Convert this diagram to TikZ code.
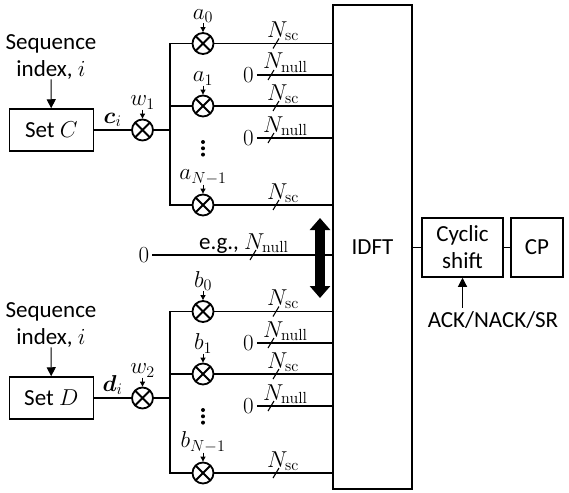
\documentclass[tikz,border=0pt]{standalone}
\usepackage{fix-cm}
\usepackage[no-math]{fontspec}
\setmainfont{Carlito}
\usepackage{bm}
\usetikzlibrary{arrows.meta,positioning}

\tikzset{
  blk/.style={draw,line width=1.5pt,inner sep=0pt,align=center},
  mixer/.style={circle,draw,line width=1.8pt,minimum size=21pt,inner sep=0pt,
    path picture={\draw[line width=1.8pt]
      (path picture bounding box.north west) -- (path picture bounding box.south east)
      (path picture bounding box.north east) -- (path picture bounding box.south west);}},
  wire/.style={line width=1.1pt},
  tip/.style={-{Triangle[width=9pt,length=9pt]},line width=1.1pt},
  smalltip/.style={-{Triangle[width=5pt,length=5pt]},line width=0.9pt},
  coef/.style={inner sep=0pt},
  zero/.style={inner sep=3pt},
  buslab/.style={anchor=base west,inner sep=0pt}
}

\begin{document}
\begin{tikzpicture}[x=1pt,y=-1pt,font=\fontsize{23}{27}\selectfont]
    \useasboundingbox (0,0) rectangle (569,492);
    % IDFT block and output chain
    \node[blk,minimum width=79pt,minimum height=484pt] (idft) at (372.5,247) {IDFT};
    \node[blk,minimum width=81pt,minimum height=59pt] (cyc) at (462.5,247.5) {Cyclic\\shift};
    \node[blk,minimum width=52pt,minimum height=59pt] (cp) at (537,247.5) {CP};
    \node (ack) at (493,320) {ACK/NACK/SR};
    \draw[wire] (cyc.west -| idft.east) -- (cyc.west);
    \draw[wire] (cyc) -- (cp);
    \draw[tip] (ack.north -| cyc) -- (cyc.south);
    % shared null input in the middle
    \node[zero] (z0) at (144,255) {$0$};
    \draw[wire] (z0) -- (z0 -| idft.west);
    \coordinate (s0) at (253,255);
    \draw[wire] ([shift={(-3,5)}]s0) -- ([shift={(3,-5)}]s0);
    \node[buslab] (eg) at (244,249) {\llap{e.g.,\ }$N_{\mathrm{null}}$};
    % the null band can slide up or down
    \coordinate (up) at (320,218);
    \coordinate (dn) at (320,298);
    \draw[line width=10pt,{Triangle[width=20pt,length=12pt]}-{Triangle[width=20pt,length=12pt]}] (up) -- (dn);
    % the two sequence branches
    \foreach \g/\yo/\set/\vec/\w/\c in {1/0/C/c/1/a,2/268/D/d/2/b}{%
      \begin{scope}[shift={(0,\yo)}]
        \node[align=center,inner sep=0pt,anchor=north] (seq\g) at (51,34) {Sequence\\index, $i$};
        \node[blk,minimum width=84pt,minimum height=42pt] (set\g) at (51.3,130) {Set $\set$};
        \node[mixer] (w\g) at (142.5,130) {};
        \node[coef,above=9pt of w\g] (lw\g) {$w_\w$};
        \draw[tip] (seq\g) -- (set\g);
        \draw[smalltip] (lw\g) -- (w\g);
        \draw[wire] (set\g) -- node[above,inner sep=3pt] (v\g) {$\bm{\vec}_i$} (w\g);
        \coordinate (bus\g) at (170,130);
        % subcarrier mixers
        \foreach \k/\y/\lab in {0/43.5/0,1/106/1,2/205/{N-1}}{%
          \node[mixer] (m\g\k) at (203,\y) {};
          \node[coef,above=9pt of m\g\k] (l\g\k) {$\c_{\lab}$};
          \draw[smalltip] (l\g\k) -- (m\g\k);
          \draw[wire] (m\g\k) -- (m\g\k -| idft.west);
          \coordinate (s\g\k) at (276,\y);
          \draw[wire] ([shift={(-3,5)}]s\g\k) -- ([shift={(3,-5)}]s\g\k);
          \node[buslab] (nsc\g\k) at (267,\y-6) {$N_{\mathrm{sc}}$};
        }
        \draw[wire] (w\g) -- (bus\g);
        \draw[wire] (m\g0) -| (bus\g) |- (m\g2);
        \draw[wire] (m\g1) -- (m\g1 -| bus\g);
        \foreach \d in {142,148.3,154.6}
          \fill (203,\d) circle (2pt);
        % null subcarriers
        \foreach \k/\y in {0/75,1/138}{%
          \node[zero] (z\g\k) at (248.5,\y) {$0$};
          \draw[wire] (z\g\k) -- (z\g\k -| idft.west);
          \coordinate (t\g\k) at (271,\y);
          \draw[wire] ([shift={(-3,5)}]t\g\k) -- ([shift={(3,-5)}]t\g\k);
          \node[buslab] (nn\g\k) at (263,\y-6) {$N_{\mathrm{null}}$};
        }
      \end{scope}
    }
\end{tikzpicture}
\end{document}
